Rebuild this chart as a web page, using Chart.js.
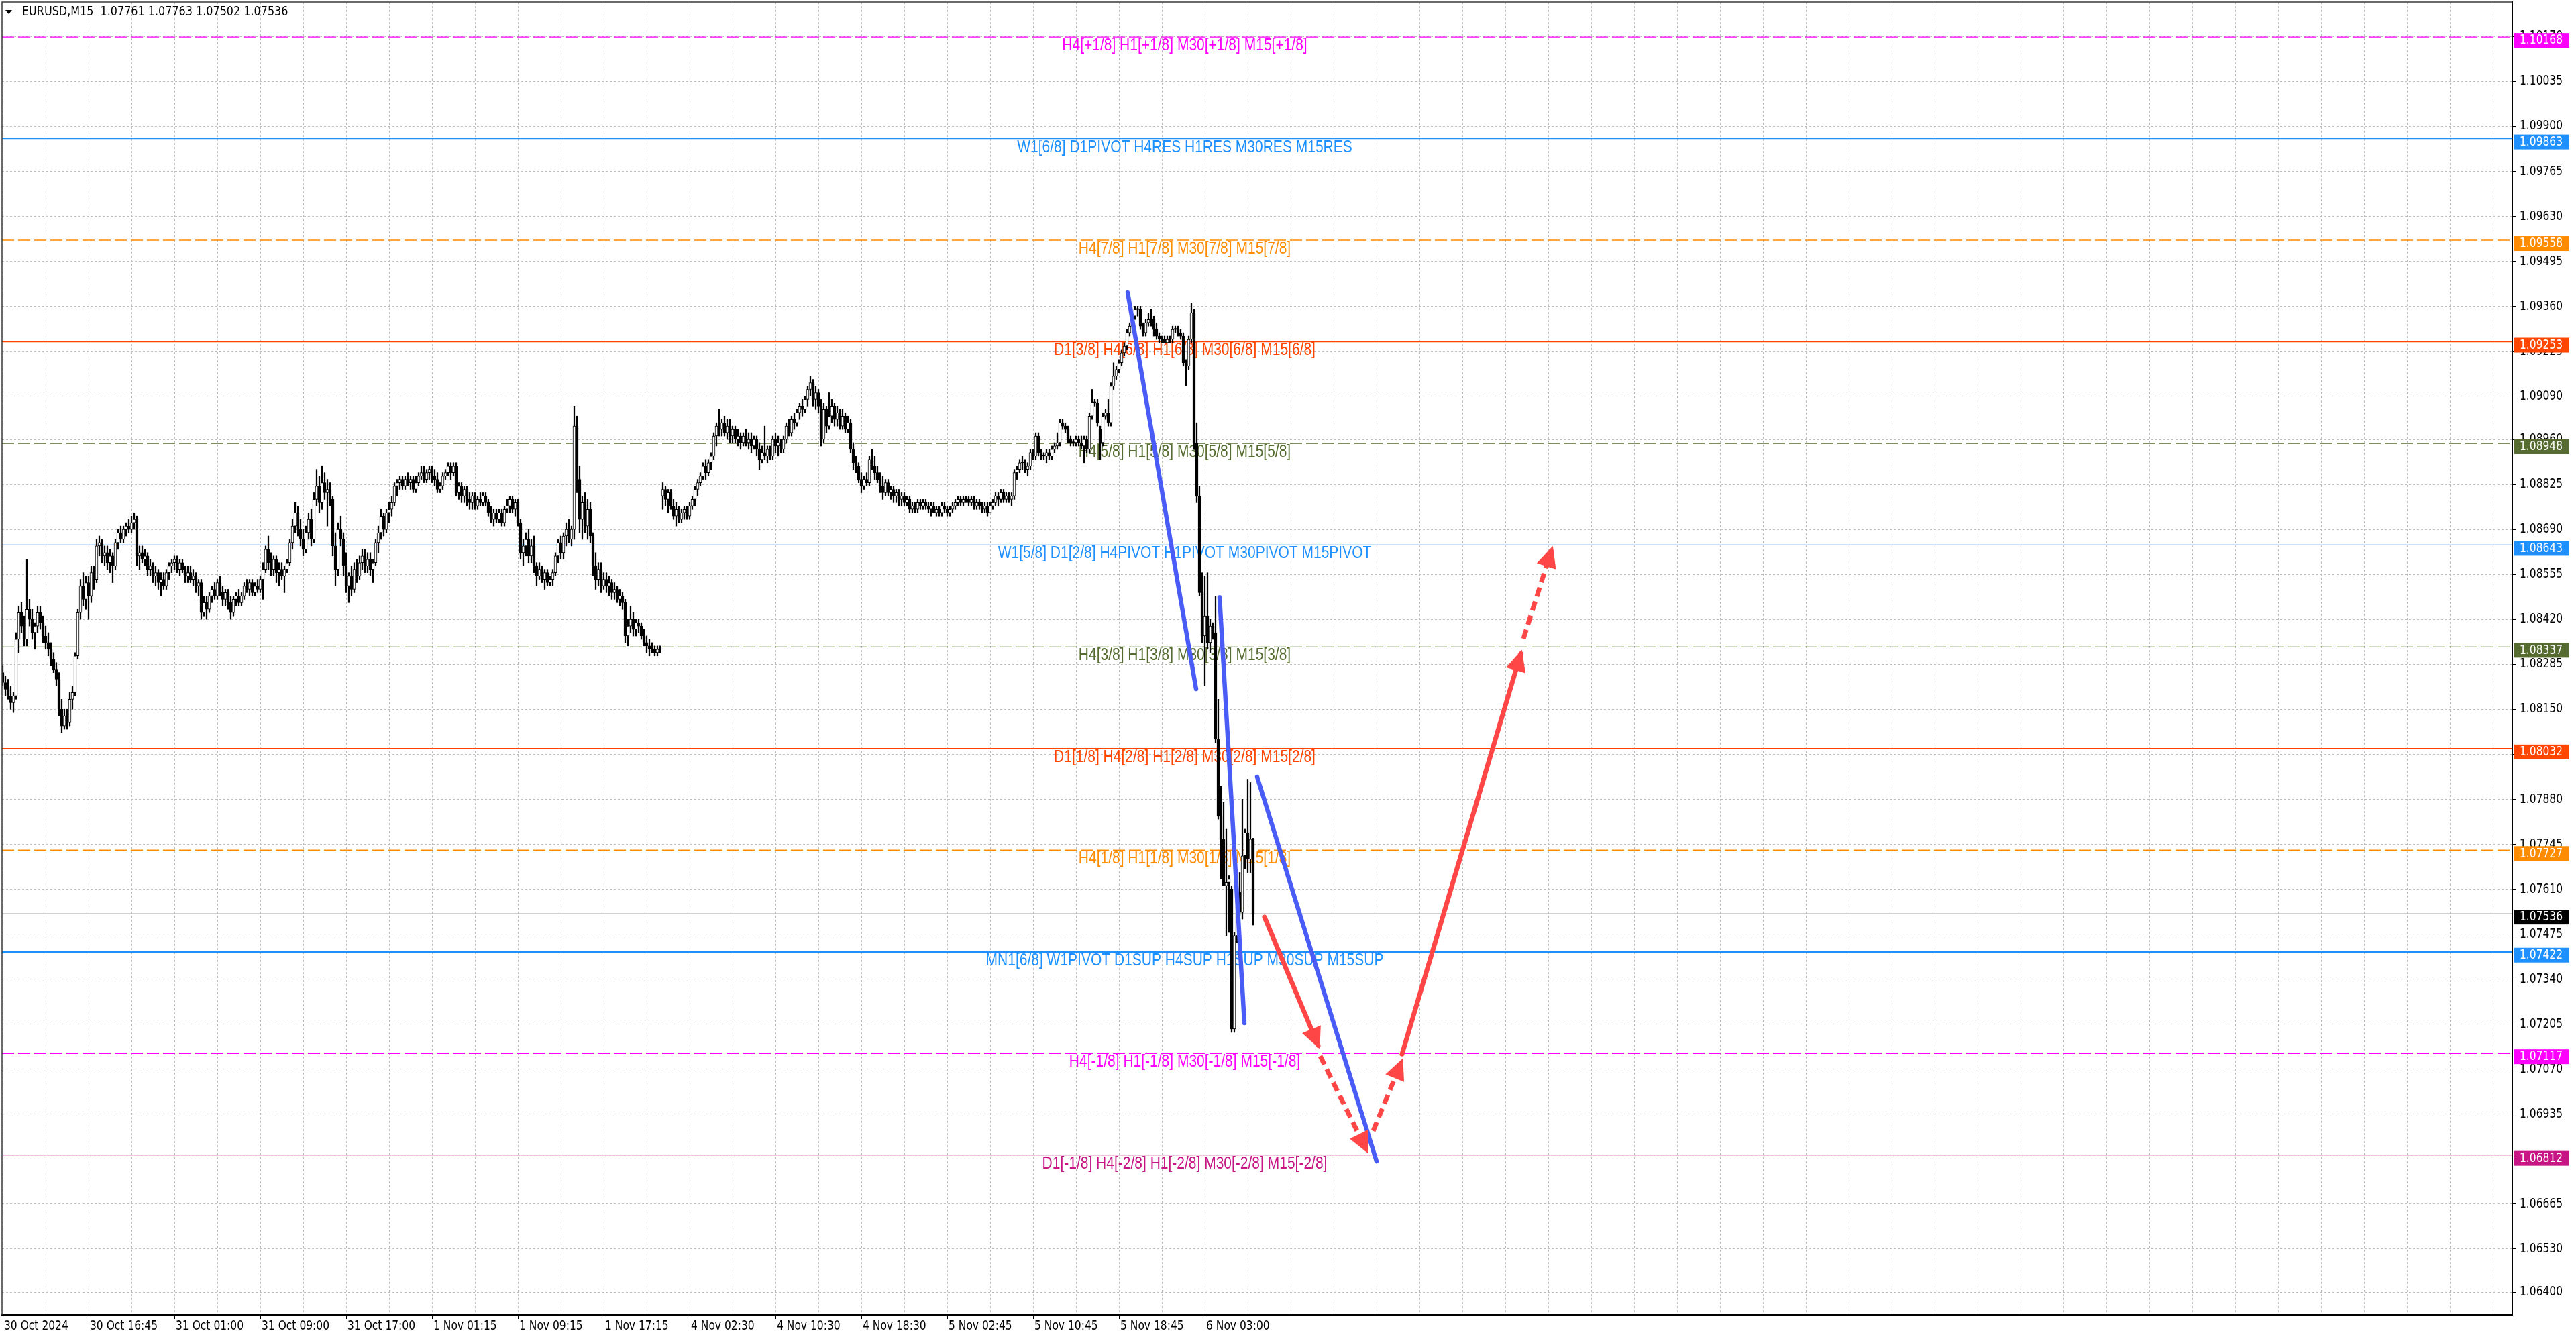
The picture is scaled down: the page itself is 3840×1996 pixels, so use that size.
<!DOCTYPE html>
<html>
<head>
<meta charset="utf-8">
<title>EURUSD,M15</title>
<script src="https://cdn.jsdelivr.net/npm/chart.js@4.4.1/dist/chart.umd.min.js"></script>
<style>
  html, body { margin: 0; padding: 0; background: #ffffff; }
  #wrap { width: 3840px; height: 1996px; }
</style>
</head>
<body>
<div id="wrap"><canvas id="chart" width="3840" height="1996"></canvas></div>
<script>
// ---- data ----
const symbolTitle = "EURUSD,M15";
const lastBarOHLC = ["1.07761", "1.07763", "1.07502", "1.07536"];

// M15 candles, bar 0 = first bar on screen (30 Oct 2024)
const opens = [
  1.0826,1.0823,1.0821,1.0819,1.0817,1.0819,1.0836,1.0844,1.0840,1.0836,
  1.0845,1.0842,1.0838,1.0840,1.0844,1.0841,1.0837,1.0835,1.0833,1.0830,
  1.0827,1.0824,1.0815,1.0810,1.0813,1.0811,1.0818,1.0820,1.0831,1.0844,
  1.0852,1.0848,1.0853,1.0849,1.0856,1.0854,1.0864,1.0865,1.0861,1.0862,
  1.0859,1.0861,1.0858,1.0865,1.0868,1.0866,1.0869,1.0870,1.0869,1.0871,
  1.0872,1.0861,1.0862,1.0860,1.0861,1.0857,1.0858,1.0855,1.0856,1.0853,
  1.0854,1.0852,1.0856,1.0858,1.0859,1.0860,1.0857,1.0859,1.0857,1.0855,
  1.0856,1.0854,1.0855,1.0852,1.0853,1.0844,1.0847,1.0845,1.0849,1.0851,
  1.0849,1.0853,1.0850,1.0848,1.0850,1.0847,1.0844,1.0848,1.0849,1.0847,
  1.0849,1.0852,1.0851,1.0853,1.0850,1.0852,1.0851,1.0854,1.0857,1.0863,
  1.0859,1.0857,1.0860,1.0856,1.0857,1.0855,1.0857,1.0859,1.0865,1.0870,
  1.0874,1.0869,1.0866,1.0863,1.0868,1.0872,1.0866,1.0878,1.0882,1.0877,
  1.0883,1.0880,1.0881,1.0878,1.0864,1.0857,1.0869,1.0866,1.0858,1.0852,
  1.0855,1.0851,1.0857,1.0855,1.0859,1.0861,1.0858,1.0860,1.0857,1.0859,
  1.0865,1.0868,1.0873,1.0869,1.0874,1.0875,1.0877,1.0882,1.0883,1.0884,
  1.0882,1.0884,1.0883,1.0884,1.0881,1.0883,1.0885,1.0886,1.0884,1.0886,
  1.0887,1.0885,1.0884,1.0881,1.0882,1.0885,1.0886,1.0888,1.0886,1.0888,
  1.0880,1.0882,1.0879,1.0881,1.0878,1.0877,1.0879,1.0876,1.0878,1.0877,
  1.0879,1.0877,1.0874,1.0872,1.0874,1.0872,1.0874,1.0871,1.0875,1.0876,
  1.0878,1.0875,1.0877,1.0871,1.0862,1.0864,1.0866,1.0861,1.0864,1.0858,
  1.0855,1.0857,1.0854,1.0856,1.0853,1.0854,1.0856,1.0861,1.0865,1.0862,
  1.0867,1.0869,1.0866,1.0869,1.0900,1.0884,1.0872,1.0877,1.0870,1.0875,
  1.0867,1.0858,1.0854,1.0857,1.0852,1.0854,1.0852,1.0853,1.0850,1.0851,
  1.0848,1.0849,1.0847,1.0837,1.0840,1.0842,1.0839,1.0841,1.0840,1.0837,
  1.0835,1.0834,1.0833,1.0833,1.0832,1.0833,1.0879,1.0881,1.0878,1.0880,
  1.0876,1.0873,1.0875,1.0872,1.0874,1.0875,1.0873,1.0876,1.0878,1.0881,
  1.0883,1.0885,1.0888,1.0886,1.0889,1.0891,1.0897,1.0900,1.0899,1.0901,
  1.0898,1.0900,1.0897,1.0899,1.0896,1.0897,1.0895,1.0897,1.0895,1.0896,
  1.0894,1.0896,1.0893,1.0890,1.0892,1.0891,1.0893,1.0891,1.0896,1.0894,
  1.0895,1.0893,1.0896,1.0900,1.0898,1.0902,1.0901,1.0904,1.0906,1.0905,
  1.0908,1.0911,1.0913,1.0908,1.0910,1.0906,1.0896,1.0905,1.0900,1.0903,
  1.0906,1.0902,1.0904,1.0900,1.0903,1.0899,1.0901,1.0893,1.0889,1.0888,
  1.0884,1.0882,1.0884,1.0883,1.0890,1.0888,1.0886,1.0884,1.0882,1.0880,
  1.0883,1.0880,1.0881,1.0879,1.0880,1.0878,1.0879,1.0877,1.0878,1.0875,
  1.0876,1.0875,1.0877,1.0876,1.0877,1.0876,1.0875,1.0876,1.0874,1.0875,
  1.0874,1.0876,1.0875,1.0874,1.0875,1.0876,1.0877,1.0878,1.0877,1.0878,
  1.0878,1.0877,1.0878,1.0876,1.0877,1.0876,1.0875,1.0876,1.0874,1.0876,
  1.0877,1.0879,1.0878,1.0880,1.0878,1.0879,1.0878,1.0879,1.0886,1.0887,
  1.0889,1.0889,1.0887,1.0888,1.0892,1.0891,1.0897,1.0892,1.0891,1.0891,
  1.0892,1.0891,1.0893,1.0894,1.0895,1.0901,1.0900,1.0899,1.0896,1.0895,
  1.0895,1.0896,1.0895,1.0894,1.0896,1.0893,1.0903,1.0907,1.0907,1.0899,
  1.0895,1.0903,1.0904,1.0901,1.0912,1.0915,1.0917,1.0919,1.0922,1.0924,
  1.0928,1.0930,1.0933,1.0935,1.0935,1.0930,1.0928,1.0931,1.0932,1.0932,
  1.0929,1.0927,1.0926,1.0926,1.0925,1.0926,1.0926,1.0929,1.0929,1.0928,
  1.0927,1.0919,1.0918,1.0926,1.0934,1.0895,1.0879,1.0850,1.0837,1.0843,
  1.0835,1.0840,1.0838,1.0806,1.0783,1.0776,1.0762,1.0763,1.0761,1.0719,
  1.0747,1.0760,1.0754,1.0771,1.0778,1.0770,1.07761
];
const highs = [
  1.0828,1.0825,1.0824,1.0822,1.0820,1.0838,1.0846,1.0847,1.0843,1.0860,
  1.0848,1.0845,1.0841,1.0846,1.0846,1.0843,1.0840,1.0838,1.0835,1.0832,
  1.0829,1.0826,1.0818,1.0815,1.0815,1.0820,1.0822,1.0832,1.0845,1.0854,
  1.0856,1.0855,1.0855,1.0858,1.0858,1.0866,1.0867,1.0866,1.0864,1.0864,
  1.0863,1.0862,1.0866,1.0869,1.0870,1.0870,1.0871,1.0872,1.0873,1.0874,
  1.0873,1.0864,1.0864,1.0863,1.0862,1.0860,1.0859,1.0858,1.0857,1.0856,
  1.0856,1.0857,1.0859,1.0860,1.0861,1.0861,1.0860,1.0860,1.0858,1.0858,
  1.0858,1.0857,1.0856,1.0854,1.0854,1.0849,1.0849,1.0850,1.0852,1.0853,
  1.0854,1.0855,1.0852,1.0851,1.0851,1.0849,1.0849,1.0850,1.0851,1.0850,
  1.0853,1.0854,1.0854,1.0854,1.0853,1.0854,1.0855,1.0859,1.0864,1.0867,
  1.0862,1.0861,1.0861,1.0859,1.0859,1.0858,1.0860,1.0866,1.0872,1.0877,
  1.0876,1.0872,1.0869,1.0870,1.0874,1.0875,1.0880,1.0887,1.0885,1.0888,
  1.0886,1.0884,1.0883,1.0879,1.0868,1.0871,1.0873,1.0868,1.0862,1.0856,
  1.0858,1.0859,1.0860,1.0861,1.0863,1.0863,1.0862,1.0862,1.0860,1.0866,
  1.0870,1.0875,1.0874,1.0875,1.0877,1.0879,1.0883,1.0884,1.0885,1.0885,
  1.0885,1.0886,1.0885,1.0885,1.0885,1.0886,1.0888,1.0888,1.0887,1.0888,
  1.0888,1.0887,1.0886,1.0883,1.0886,1.0887,1.0889,1.0889,1.0889,1.0889,
  1.0883,1.0883,1.0882,1.0882,1.0880,1.0880,1.0880,1.0879,1.0880,1.0880,
  1.0880,1.0878,1.0876,1.0875,1.0875,1.0875,1.0875,1.0876,1.0878,1.0879,
  1.0879,1.0878,1.0878,1.0872,1.0866,1.0868,1.0869,1.0866,1.0867,1.0859,
  1.0859,1.0858,1.0857,1.0857,1.0855,1.0857,1.0862,1.0866,1.0867,1.0868,
  1.0871,1.0872,1.0870,1.0906,1.0903,1.0888,1.0879,1.0880,1.0878,1.0877,
  1.0868,1.0862,1.0859,1.0859,1.0856,1.0856,1.0855,1.0854,1.0853,1.0852,
  1.0851,1.0850,1.0848,1.0842,1.0846,1.0844,1.0842,1.0842,1.0841,1.0839,
  1.0837,1.0836,1.0835,1.0834,1.0834,1.0834,1.0883,1.0882,1.0881,1.0881,
  1.0878,1.0877,1.0876,1.0875,1.0876,1.0876,1.0877,1.0879,1.0882,1.0884,
  1.0886,1.0889,1.0890,1.0890,1.0892,1.0898,1.0901,1.0905,1.0902,1.0903,
  1.0902,1.0902,1.0900,1.0900,1.0899,1.0898,1.0898,1.0899,1.0898,1.0898,
  1.0897,1.0897,1.0895,1.0894,1.0900,1.0894,1.0894,1.0897,1.0898,1.0897,
  1.0896,1.0897,1.0901,1.0902,1.0903,1.0904,1.0905,1.0907,1.0908,1.0909,
  1.0912,1.0915,1.0914,1.0912,1.0911,1.0908,1.0907,1.0906,1.0910,1.0908,
  1.0907,1.0906,1.0905,1.0905,1.0904,1.0903,1.0902,1.0895,1.0891,1.0889,
  1.0886,1.0885,1.0886,1.0891,1.0893,1.0891,1.0888,1.0886,1.0885,1.0884,
  1.0884,1.0882,1.0882,1.0881,1.0881,1.0880,1.0880,1.0879,1.0879,1.0877,
  1.0877,1.0878,1.0878,1.0878,1.0878,1.0877,1.0877,1.0877,1.0876,1.0876,
  1.0877,1.0877,1.0876,1.0876,1.0877,1.0878,1.0879,1.0879,1.0879,1.0879,
  1.0879,1.0879,1.0879,1.0878,1.0878,1.0877,1.0877,1.0877,1.0877,1.0878,
  1.0880,1.0880,1.0881,1.0881,1.0880,1.0880,1.0880,1.0887,1.0888,1.0890,
  1.0891,1.0890,1.0889,1.0893,1.0893,1.0898,1.0898,1.0893,1.0892,1.0893,
  1.0893,1.0894,1.0895,1.0898,1.0902,1.0902,1.0901,1.0900,1.0897,1.0896,
  1.0897,1.0897,1.0897,1.0897,1.0897,1.0904,1.0911,1.0908,1.0908,1.0900,
  1.0904,1.0905,1.0908,1.0913,1.0919,1.0918,1.0920,1.0923,1.0925,1.0929,
  1.0931,1.0934,1.0936,1.0936,1.0936,1.0931,1.0932,1.0934,1.0935,1.0933,
  1.0931,1.0928,1.0927,1.0927,1.0927,1.0927,1.0930,1.0930,1.0930,1.0929,
  1.0928,1.0920,1.0927,1.0937,1.0935,1.0901,1.0882,1.0856,1.0855,1.0856,
  1.0842,1.0841,1.0849,1.0818,1.0792,1.0787,1.0779,1.0765,1.0762,1.0748,
  1.0757,1.0766,1.0788,1.0779,1.0794,1.0793,1.07763
];
const lows = [
  1.0822,1.0819,1.0818,1.0815,1.0814,1.0818,1.0832,1.0838,1.0834,1.0834,
  1.0840,1.0836,1.0833,1.0838,1.0839,1.0835,1.0833,1.0831,1.0828,1.0826,
  1.0822,1.0813,1.0808,1.0809,1.0809,1.0810,1.0815,1.0819,1.0830,1.0842,
  1.0846,1.0845,1.0842,1.0847,1.0851,1.0853,1.0861,1.0859,1.0858,1.0857,
  1.0856,1.0853,1.0857,1.0863,1.0865,1.0865,1.0867,1.0868,1.0868,1.0869,
  1.0858,1.0857,1.0859,1.0858,1.0855,1.0855,1.0853,1.0852,1.0851,1.0849,
  1.0851,1.0851,1.0854,1.0856,1.0857,1.0856,1.0855,1.0856,1.0853,1.0853,
  1.0853,1.0852,1.0850,1.0849,1.0842,1.0843,1.0842,1.0844,1.0847,1.0848,
  1.0848,1.0849,1.0846,1.0846,1.0845,1.0842,1.0843,1.0846,1.0846,1.0846,
  1.0848,1.0850,1.0849,1.0849,1.0849,1.0850,1.0850,1.0848,1.0856,1.0857,
  1.0855,1.0855,1.0853,1.0852,1.0854,1.0850,1.0856,1.0858,1.0863,1.0868,
  1.0867,1.0864,1.0861,1.0862,1.0866,1.0864,1.0865,1.0876,1.0874,1.0875,
  1.0878,1.0870,1.0876,1.0861,1.0852,1.0855,1.0864,1.0855,1.0850,1.0847,
  1.0849,1.0850,1.0853,1.0854,1.0857,1.0856,1.0856,1.0855,1.0853,1.0858,
  1.0862,1.0866,1.0867,1.0868,1.0871,1.0873,1.0876,1.0879,1.0881,1.0881,
  1.0881,1.0882,1.0881,1.0880,1.0880,1.0882,1.0884,1.0883,1.0883,1.0884,
  1.0883,1.0882,1.0880,1.0880,1.0881,1.0884,1.0885,1.0884,1.0885,1.0879,
  1.0878,1.0877,1.0877,1.0876,1.0875,1.0875,1.0875,1.0875,1.0876,1.0876,
  1.0876,1.0873,1.0871,1.0870,1.0871,1.0871,1.0870,1.0870,1.0874,1.0874,
  1.0874,1.0873,1.0870,1.0860,1.0858,1.0861,1.0859,1.0859,1.0856,1.0852,
  1.0854,1.0853,1.0851,1.0852,1.0852,1.0852,1.0855,1.0859,1.0860,1.0860,
  1.0864,1.0865,1.0864,1.0866,1.0880,1.0868,1.0866,1.0868,1.0866,1.0865,
  1.0855,1.0851,1.0852,1.0850,1.0851,1.0850,1.0849,1.0848,1.0848,1.0847,
  1.0846,1.0845,1.0835,1.0834,1.0838,1.0837,1.0837,1.0838,1.0836,1.0834,
  1.0832,1.0831,1.0832,1.0831,1.0831,1.0832,1.0875,1.0876,1.0874,1.0875,
  1.0872,1.0870,1.0871,1.0871,1.0872,1.0872,1.0872,1.0875,1.0876,1.0879,
  1.0882,1.0884,1.0884,1.0885,1.0887,1.0890,1.0894,1.0897,1.0897,1.0897,
  1.0896,1.0895,1.0895,1.0895,1.0894,1.0893,1.0894,1.0894,1.0893,1.0892,
  1.0893,1.0891,1.0887,1.0889,1.0890,1.0889,1.0890,1.0890,1.0892,1.0891,
  1.0892,1.0892,1.0895,1.0897,1.0897,1.0899,1.0900,1.0902,1.0903,1.0904,
  1.0906,1.0909,1.0906,1.0905,1.0904,1.0894,1.0895,1.0898,1.0899,1.0901,
  1.0900,1.0900,1.0899,1.0899,1.0898,1.0898,1.0892,1.0887,1.0886,1.0883,
  1.0880,1.0881,1.0882,1.0882,1.0887,1.0884,1.0883,1.0880,1.0878,1.0879,
  1.0879,1.0878,1.0877,1.0877,1.0876,1.0876,1.0876,1.0876,1.0874,1.0874,
  1.0874,1.0874,1.0875,1.0875,1.0875,1.0874,1.0873,1.0874,1.0873,1.0873,
  1.0873,1.0874,1.0873,1.0873,1.0874,1.0875,1.0876,1.0876,1.0876,1.0877,
  1.0876,1.0876,1.0875,1.0875,1.0875,1.0874,1.0874,1.0873,1.0874,1.0875,
  1.0876,1.0876,1.0877,1.0877,1.0877,1.0877,1.0876,1.0878,1.0884,1.0886,
  1.0887,1.0886,1.0885,1.0887,1.0890,1.0890,1.0891,1.0890,1.0890,1.0889,
  1.0890,1.0890,1.0892,1.0893,1.0894,1.0899,1.0898,1.0895,1.0894,1.0894,
  1.0894,1.0894,1.0893,1.0889,1.0892,1.0892,1.0902,1.0906,1.0900,1.0890,
  1.0894,1.0902,1.0900,1.0900,1.0911,1.0914,1.0916,1.0918,1.0921,1.0923,
  1.0927,1.0929,1.0932,1.0933,1.0929,1.0927,1.0927,1.0930,1.0930,1.0927,
  1.0926,1.0925,1.0925,1.0925,1.0925,1.0925,1.0925,1.0928,1.0927,1.0926,
  1.0918,1.0912,1.0917,1.0925,1.0893,1.0877,1.0849,1.0835,1.0822,1.0833,
  1.0832,1.0836,1.0805,1.0782,1.0764,1.0762,1.0747,1.0748,1.0718,1.0718,
  1.0745,1.0753,1.0752,1.0767,1.0766,1.0766,1.07502
];
const closes = [
  1.0823,1.0821,1.0819,1.0817,1.0819,1.0836,1.0844,1.0840,1.0836,1.0845,
  1.0842,1.0838,1.0840,1.0844,1.0841,1.0837,1.0835,1.0833,1.0830,1.0827,
  1.0824,1.0815,1.0810,1.0813,1.0811,1.0818,1.0820,1.0831,1.0844,1.0852,
  1.0848,1.0853,1.0849,1.0856,1.0854,1.0864,1.0865,1.0861,1.0862,1.0859,
  1.0861,1.0858,1.0865,1.0868,1.0866,1.0869,1.0870,1.0869,1.0871,1.0872,
  1.0861,1.0862,1.0860,1.0861,1.0857,1.0858,1.0855,1.0856,1.0853,1.0854,
  1.0852,1.0856,1.0858,1.0859,1.0860,1.0857,1.0859,1.0857,1.0855,1.0856,
  1.0854,1.0855,1.0852,1.0853,1.0844,1.0847,1.0845,1.0849,1.0851,1.0849,
  1.0853,1.0850,1.0848,1.0850,1.0847,1.0844,1.0848,1.0849,1.0847,1.0849,
  1.0852,1.0851,1.0853,1.0850,1.0852,1.0851,1.0854,1.0857,1.0863,1.0859,
  1.0857,1.0860,1.0856,1.0857,1.0855,1.0857,1.0859,1.0865,1.0870,1.0874,
  1.0869,1.0866,1.0863,1.0868,1.0872,1.0866,1.0878,1.0882,1.0877,1.0883,
  1.0880,1.0881,1.0878,1.0864,1.0857,1.0869,1.0866,1.0858,1.0852,1.0855,
  1.0851,1.0857,1.0855,1.0859,1.0861,1.0858,1.0860,1.0857,1.0859,1.0865,
  1.0868,1.0873,1.0869,1.0874,1.0875,1.0877,1.0882,1.0883,1.0884,1.0882,
  1.0884,1.0883,1.0884,1.0881,1.0883,1.0885,1.0886,1.0884,1.0886,1.0887,
  1.0885,1.0884,1.0881,1.0882,1.0885,1.0886,1.0888,1.0886,1.0888,1.0880,
  1.0882,1.0879,1.0881,1.0878,1.0877,1.0879,1.0876,1.0878,1.0877,1.0879,
  1.0877,1.0874,1.0872,1.0874,1.0872,1.0874,1.0871,1.0875,1.0876,1.0878,
  1.0875,1.0877,1.0871,1.0862,1.0864,1.0866,1.0861,1.0864,1.0858,1.0855,
  1.0857,1.0854,1.0856,1.0853,1.0854,1.0856,1.0861,1.0865,1.0862,1.0867,
  1.0869,1.0866,1.0869,1.0900,1.0884,1.0872,1.0877,1.0870,1.0875,1.0867,
  1.0858,1.0854,1.0857,1.0852,1.0854,1.0852,1.0853,1.0850,1.0851,1.0848,
  1.0849,1.0847,1.0837,1.0840,1.0842,1.0839,1.0841,1.0840,1.0837,1.0835,
  1.0834,1.0833,1.0833,1.0832,1.0833,1.0833,1.0881,1.0878,1.0880,1.0876,
  1.0873,1.0875,1.0872,1.0874,1.0875,1.0873,1.0876,1.0878,1.0881,1.0883,
  1.0885,1.0888,1.0886,1.0889,1.0891,1.0897,1.0900,1.0899,1.0901,1.0898,
  1.0900,1.0897,1.0899,1.0896,1.0897,1.0895,1.0897,1.0895,1.0896,1.0894,
  1.0896,1.0893,1.0890,1.0892,1.0891,1.0893,1.0891,1.0896,1.0894,1.0895,
  1.0893,1.0896,1.0900,1.0898,1.0902,1.0901,1.0904,1.0906,1.0905,1.0908,
  1.0911,1.0913,1.0908,1.0910,1.0906,1.0896,1.0905,1.0900,1.0903,1.0906,
  1.0902,1.0904,1.0900,1.0903,1.0899,1.0901,1.0893,1.0889,1.0888,1.0884,
  1.0882,1.0884,1.0883,1.0890,1.0888,1.0886,1.0884,1.0882,1.0880,1.0883,
  1.0880,1.0881,1.0879,1.0880,1.0878,1.0879,1.0877,1.0878,1.0875,1.0876,
  1.0875,1.0877,1.0876,1.0877,1.0876,1.0875,1.0876,1.0874,1.0875,1.0874,
  1.0876,1.0875,1.0874,1.0875,1.0876,1.0877,1.0878,1.0877,1.0878,1.0878,
  1.0877,1.0878,1.0876,1.0877,1.0876,1.0875,1.0876,1.0874,1.0876,1.0877,
  1.0879,1.0878,1.0880,1.0878,1.0879,1.0878,1.0879,1.0886,1.0887,1.0889,
  1.0889,1.0887,1.0888,1.0892,1.0891,1.0897,1.0892,1.0891,1.0891,1.0892,
  1.0891,1.0893,1.0894,1.0895,1.0901,1.0900,1.0899,1.0896,1.0895,1.0895,
  1.0896,1.0895,1.0894,1.0896,1.0893,1.0903,1.0907,1.0907,1.0901,1.0895,
  1.0903,1.0904,1.0901,1.0912,1.0915,1.0917,1.0919,1.0922,1.0924,1.0928,
  1.0930,1.0933,1.0935,1.0935,1.0930,1.0928,1.0931,1.0932,1.0932,1.0929,
  1.0927,1.0926,1.0926,1.0925,1.0926,1.0926,1.0929,1.0929,1.0928,1.0927,
  1.0919,1.0918,1.0926,1.0934,1.0895,1.0879,1.0850,1.0837,1.0843,1.0835,
  1.0840,1.0838,1.0806,1.0783,1.0776,1.0762,1.0763,1.0764,1.0719,1.0747,
  1.0756,1.0754,1.0771,1.0778,1.0770,1.0776,1.07536
];

// time scale labels (every 32 bars)
const xTickBars = [0, 32, 64, 96, 128, 160, 192, 224, 256, 288, 320, 352, 384, 416, 448];
const xTickLabels = ["30 Oct 2024", "30 Oct 16:45", "31 Oct 01:00", "31 Oct 09:00", "31 Oct 17:00",
  "1 Nov 01:15", "1 Nov 09:15", "1 Nov 17:15", "4 Nov 02:30", "4 Nov 10:30", "4 Nov 18:30",
  "5 Nov 02:45", "5 Nov 10:45", "5 Nov 18:45", "6 Nov 03:00"];

// price scale labels
const yTickValues = [1.10170, 1.10035, 1.09900, 1.09765, 1.09630, 1.09495, 1.09360, 1.09225, 1.09090,
  1.08960, 1.08825, 1.08690, 1.08555, 1.08420, 1.08285, 1.08150, 1.08015, 1.07880, 1.07745,
  1.07610, 1.07475, 1.07340, 1.07205, 1.07070, 1.06935, 1.06800, 1.06665, 1.06530, 1.06400];

// Murrey math levels
const levelPrices = [1.10168, 1.09863, 1.09558, 1.09253, 1.08948, 1.08643, 1.08337, 1.08032, 1.07727, 1.07422, 1.07117, 1.06812];
const levelTexts = [
  "H4[+1/8] H1[+1/8] M30[+1/8] M15[+1/8]",
  "W1[6/8] D1PIVOT H4RES H1RES M30RES M15RES",
  "H4[7/8] H1[7/8] M30[7/8] M15[7/8]",
  "D1[3/8] H4[6/8] H1[6/8] M30[6/8] M15[6/8]",
  "H4[5/8] H1[5/8] M30[5/8] M15[5/8]",
  "W1[5/8] D1[2/8] H4PIVOT H1PIVOT M30PIVOT M15PIVOT",
  "H4[3/8] H1[3/8] M30[3/8] M15[3/8]",
  "D1[1/8] H4[2/8] H1[2/8] M30[2/8] M15[2/8]",
  "H4[1/8] H1[1/8] M30[1/8] M15[1/8]",
  "MN1[6/8] W1PIVOT D1SUP H4SUP H1SUP M30SUP M15SUP",
  "H4[-1/8] H1[-1/8] M30[-1/8] M15[-1/8]",
  "D1[-1/8] H4[-2/8] H1[-2/8] M30[-2/8] M15[-2/8]"
];
const bidPrice = 1.07536;

// hand drawn trend lines (bar index, price)
const blueLineBars = [[419.25, 444.75], [453.5, 462.75], [467.5, 512]];
const blueLinePrices = [[1.09401, 1.08211], [1.08486, 1.07208], [1.07947, 1.06793]];
const redArrowBars = [[470.25, 490.25], [491, 508.25], [510.75, 521.25], [521.5, 565.75], [566.75, 577.25]];
const redArrowPrices = [[1.07526, 1.07141], [1.07109, 1.06827], [1.06884, 1.07091], [1.07115, 1.08317], [1.08362, 1.08629]];
const redArrowDashed = [false, true, true, false, true];

// ---- styles ----
const levelColors = ["#ff00ff", "#1e90ff", "#ff8c00", "#ff4500", "#556b2f", "#1e90ff",
  "#556b2f", "#ff4500", "#ff8c00", "#1e90ff", "#ff00ff", "#c71585"];
const levelDashed = [true, false, true, false, true, false, true, false, true, false, true, false];
const blueColor = "#4a5cf6";
const redColor = "#ff4646";
const gridColor = "#bdbdbd";
const axisFont = '15.5px "DejaVu Sans"';
const captionFont = '21px "Liberation Sans"';

const xMin = -0.25, xMax = 935.25;      // visible bar range
const yMin = 1.06332, yMax = 1.10273;   // visible price range
const captionBar = 440.5;               // where the level captions are centred

const gridBars = [];
for (let b = 0; b <= 928; b += 16) gridBars.push(b);

function stretchedText(ctx, text, x, y, font, color, align, sy) {
  ctx.save();
  ctx.font = font;
  ctx.fillStyle = color;
  ctx.textAlign = align;
  ctx.textBaseline = "middle";
  ctx.translate(x, y);
  ctx.scale(1, sy);
  ctx.fillText(text, 0, 0);
  ctx.restore();
}

// ---- datasets ----
const barIdx = closes.map((_, i) => i);
const datasets = [];

levelPrices.forEach((p, k) => {
  datasets.push({
    type: "line",
    data: [{ x: xMin, y: p }, { x: xMax, y: p }],
    borderColor: levelColors[k],
    borderWidth: k === 9 ? 2.4 : 1.4,
    borderDash: levelDashed[k] ? [18, 6] : [],
    pointRadius: 0,
    order: 30
  });
});
datasets.push({
  type: "line",
  data: [{ x: xMin, y: bidPrice }, { x: xMax, y: bidPrice }],
  borderColor: "#c0c0c0",
  borderWidth: 1.5,
  pointRadius: 0,
  order: 25
});

const wickIndex = datasets.length;
datasets.push({
  type: "bar",
  data: barIdx.map(i => ({ x: i, y: [lows[i], highs[i]] })),
  backgroundColor: "#000000",
  borderWidth: 0,
  barThickness: 1.6,
  grouped: false,
  order: 20
});
datasets.push({
  type: "bar",
  data: barIdx.map(i => ({ x: i, y: [opens[i], closes[i]] })),
  backgroundColor: barIdx.map(i => closes[i] > opens[i] ? "#ffffff" : "#000000"),
  borderColor: "#000000",
  borderWidth: 1,
  borderSkipped: false,
  barThickness: 4,
  minBarLength: 1.5,
  grouped: false,
  order: 10
});

blueLineBars.forEach((bars, k) => {
  datasets.push({
    type: "line",
    data: [{ x: bars[0], y: blueLinePrices[k][0] }, { x: bars[1], y: blueLinePrices[k][1] }],
    borderColor: blueColor,
    borderWidth: 6.5,
    borderCapStyle: "round",
    pointRadius: 0,
    order: 5
  });
});
redArrowBars.forEach((bars, k) => {
  datasets.push({
    type: "line",
    data: [{ x: bars[0], y: redArrowPrices[k][0] }, { x: bars[1], y: redArrowPrices[k][1] }],
    borderColor: redColor,
    borderWidth: 7,
    borderDash: redArrowDashed[k] ? [14, 8] : [],
    borderCapStyle: redArrowDashed[k] ? "butt" : "round",
    pointRadius: 0,
    order: 1
  });
});

// ---- drawing of the terminal furniture ----
const mt4Overlay = {
  id: "mt4Overlay",
  beforeDatasetDraw(chart, args) {
    if (args.index !== wickIndex) return;
    const { ctx, scales: { x, y } } = chart;
    const cx = x.getPixelForValue(captionBar);
    levelPrices.forEach((p, k) => {
      stretchedText(ctx, levelTexts[k], cx, y.getPixelForValue(p) + 13, captionFont, levelColors[k], "center", 1.2);
    });
  },
  afterDatasetsDraw(chart) {
    const { ctx, scales: { x, y } } = chart;
    ctx.save();
    ctx.fillStyle = redColor;
    redArrowBars.forEach((bars, k) => {
      const x0 = x.getPixelForValue(bars[0]), y0 = y.getPixelForValue(redArrowPrices[k][0]);
      const x1 = x.getPixelForValue(bars[1]), y1 = y.getPixelForValue(redArrowPrices[k][1]);
      const a = Math.atan2(y1 - y0, x1 - x0);
      const tx = x1 + Math.cos(a) * 6, ty = y1 + Math.sin(a) * 6;
      const len = 32, half = 15;
      const bx = tx - Math.cos(a) * len, by = ty - Math.sin(a) * len;
      ctx.beginPath();
      ctx.moveTo(tx, ty);
      ctx.lineTo(bx + Math.sin(a) * half, by - Math.cos(a) * half);
      ctx.lineTo(bx - Math.sin(a) * half, by + Math.cos(a) * half);
      ctx.closePath();
      ctx.fill();
    });
    ctx.restore();
  },
  afterDraw(chart) {
    const { ctx, chartArea: area, scales: { x, y } } = chart;
    // frame
    ctx.save();
    ctx.strokeStyle = "#3a3a3a";
    ctx.lineWidth = 1.5;
    ctx.beginPath();
    ctx.moveTo(area.left, area.bottom);
    ctx.lineTo(area.left, area.top);
    ctx.lineTo(area.right, area.top);
    ctx.stroke();
    ctx.restore();

    // price scale labels
    yTickValues.forEach(v => {
      const py = y.getPixelForValue(v);
      if (py < area.top + 4 || py > area.bottom) return;
      stretchedText(ctx, v.toFixed(5), area.right + 11, py, axisFont, "#000000", "left", 1.3);
    });
    // time scale labels
    xTickBars.forEach((b, k) => {
      stretchedText(ctx, xTickLabels[k], x.getPixelForValue(b) + 2, area.bottom + 17, axisFont, "#000000", "left", 1.3);
    });

    // coloured price tags on the scale
    const tags = levelPrices.map((p, k) => [p, levelColors[k]]);
    tags.push([bidPrice, "#000000"]);
    tags.forEach(([p, c]) => {
      const py = y.getPixelForValue(p);
      ctx.fillStyle = c;
      ctx.fillRect(area.right + 3, py - 6, 82, 22);
      stretchedText(ctx, p.toFixed(5), area.right + 11, py + 5, axisFont, "#ffffff", "left", 1.3);
    });

    // header
    ctx.save();
    ctx.fillStyle = "#000000";
    ctx.beginPath();
    ctx.moveTo(8, 15);
    ctx.lineTo(18, 15);
    ctx.lineTo(13, 21);
    ctx.closePath();
    ctx.fill();
    ctx.restore();
    stretchedText(ctx, symbolTitle + "  " + lastBarOHLC.join(" "), 33, 18, '16px "DejaVu Sans"', "#000000", "left", 1.25);
  }
};

new Chart(document.getElementById("chart"), {
  type: "bar",
  data: { datasets },
  options: {
    responsive: false,
    devicePixelRatio: 1,
    animation: false,
    events: [],
    layout: { padding: { left: 3, top: 3, right: 0, bottom: 0 } },
    plugins: { legend: { display: false }, tooltip: { enabled: false } },
    scales: {
      x: {
        type: "linear",
        min: xMin,
        max: xMax,
        offset: false,
        afterBuildTicks: s => { s.ticks = gridBars.map(v => ({ value: v })); },
        afterFit: s => { s.height = 36; },
        ticks: { display: false },
        grid: {
          offset: false,
          color: gridColor,
          lineWidth: 1,
          drawTicks: true,
          tickLength: 6,
          tickColor: c => (c.tick && xTickBars.includes(c.tick.value)) ? "#000000" : "rgba(0,0,0,0)"
        },
        border: { display: true, color: "#000000", width: 2, dash: [3, 3] }
      },
      y: {
        type: "linear",
        position: "right",
        min: yMin,
        max: yMax,
        afterBuildTicks: s => { s.ticks = yTickValues.map(v => ({ value: v })); },
        afterFit: s => { s.width = 95; },
        ticks: { display: false },
        grid: {
          color: gridColor,
          lineWidth: 1,
          drawTicks: true,
          tickLength: 5,
          tickColor: "#000000"
        },
        border: { display: true, color: "#000000", width: 2, dash: [3, 3] }
      }
    }
  },
  plugins: [mt4Overlay]
});
</script>
</body>
</html>
